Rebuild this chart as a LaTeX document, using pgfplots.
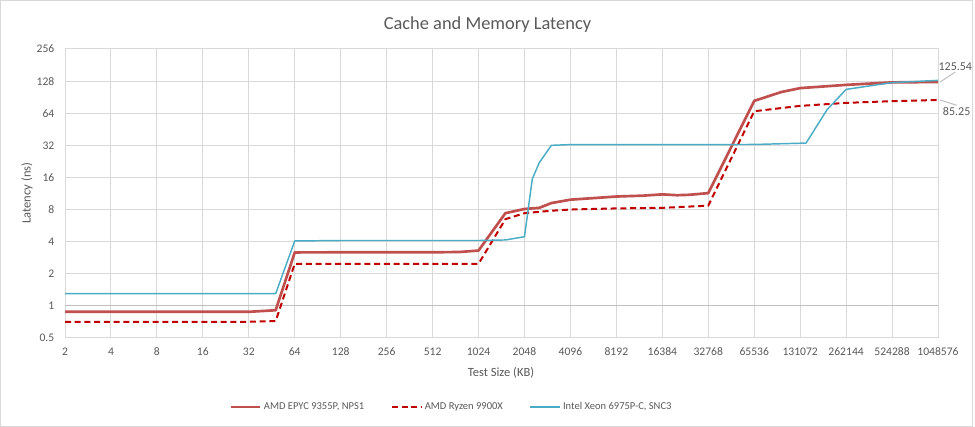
\documentclass[border=0pt]{standalone}
\usepackage{pgfplots}
\pgfplotsset{compat=1.18}
\usepackage{fontspec}
\setmainfont{Carlito}

\definecolor{epyc}{HTML}{C0504D}
\definecolor{ryzen}{HTML}{C00000}
\definecolor{xeon}{HTML}{4BACC6}
\definecolor{gridc}{HTML}{D9D9D9}
\definecolor{axisc}{HTML}{BFBFBF}
\definecolor{txt}{HTML}{595959}

\begin{document}
\begin{tikzpicture}
% 1px of the reference = 0.75pt
\useasboundingbox (0,0) rectangle (731.25pt,320.25pt);
\draw[gridc, line width=0.75pt] (0.4pt,0.4pt) rectangle (729.5pt,319.85pt);

\node[txt, font=\fontsize{13.8}{16}\selectfont] at (365.6pt,301.5pt) {Cache and Memory Latency};
\node[txt, rotate=90, font=\fontsize{9.4}{11}\selectfont] at (20.25pt,175.5pt) {Latency (ns)};
\node[txt, font=\fontsize{9.4}{11}\selectfont] at (375.75pt,40.7pt) {Test Size (KB)};

\begin{axis}[
    at={(48.75pt,66.75pt)}, anchor=south west,
    scale only axis, width=654.75pt, height=216.75pt,
    xmode=log, log basis x=2, ymode=log, log basis y=2,
    xmin=2, xmax=1048576, ymin=0.5, ymax=256,
    clip=false,
    xtick={2,4,8,16,32,64,128,256,512,1024,2048,4096,8192,16384,32768,65536,131072,262144,524288,1048576},
    xticklabels={2,4,8,16,32,64,128,256,512,1024,2048,4096,8192,16384,32768,65536,131072,262144,524288,1048576},
    ytick={0.5,1,2,4,8,16,32,64,128,256},
    yticklabels={0.5,1,2,4,8,16,32,64,128,256},
    extra y ticks={1}, extra y tick labels={},
    extra y tick style={grid style={axisc, line width=0.75pt}},
    major tick length=0pt,
    grid=major,
    grid style={gridc, line width=0.75pt},
    axis line style={draw=gridc, line width=0.75pt},
    tick label style={txt, font=\fontsize{8.7}{11}\selectfont},
    xticklabel style={yshift=-4pt},
    yticklabel style={xshift=-4.5pt},
    legend style={at={(0.443,-0.239)}, anchor=center, draw=none, fill=none,
        legend columns=3, text=txt, font=\fontsize{7.9}{10}\selectfont,
        /tikz/every even column/.append style={column sep=18pt}},
    legend image code/.code={\draw[#1] (0pt,0pt) -- (22pt,0pt);},
]
% AMD EPYC 9355P, NPS1
\addplot[epyc, line width=2pt, line join=round] coordinates {
(2,0.88)(4,0.88)(8,0.88)(16,0.88)(32,0.88)(48,0.91)(64,3.17)(128,3.18)(256,3.18)(512,3.18)(768,3.2)(1024,3.3)
(1536,7.4)(2048,8.1)(2560,8.3)(3072,9.2)(4096,9.9)(6144,10.3)(8192,10.6)(12288,10.8)(16384,11.1)(20480,10.9)(24576,11.0)(32768,11.4)
(65536,83.5)(98304,101)(131072,110)(262144,118)(524288,124.5)(1048576,125.54)
};
\addlegendentry{AMD EPYC 9355P, NPS1}
% AMD Ryzen 9900X
\addplot[ryzen, line width=1.5pt, dash pattern=on 4.5pt off 2.8pt] coordinates {
(2,0.71)(4,0.71)(8,0.71)(16,0.71)(32,0.71)(48,0.72)(64,2.48)(128,2.48)(256,2.48)(512,2.48)(1024,2.48)
(1536,6.5)(2048,7.4)(3072,7.8)(4096,8.0)(8192,8.2)(16384,8.3)(32768,8.7)
(65536,66.8)(131072,75)(262144,80)(524288,83)(1048576,85.25)
};
\addlegendentry{AMD Ryzen 9900X}
% Intel Xeon 6975P-C, SNC3
\addplot[xeon, line width=1.1pt, line join=round] coordinates {
(2,1.3)(4,1.3)(8,1.3)(16,1.3)(32,1.3)(48,1.3)(64,4.06)(128,4.1)(256,4.1)(512,4.1)(1024,4.1)
(1536,4.15)(2048,4.45)(2304,15.5)(2560,22)(3072,32)(4096,32.5)(8192,32.5)(16384,32.5)(32768,32.5)
(65536,32.6)(143360,33.6)(196608,69)(262144,107)(524288,124)(1048576,130)
};
\addlegendentry{Intel Xeon 6975P-C, SNC3}

\draw[axisc, line width=0.75pt] ([xshift=1.5pt]axis cs:1048576,125.54) -- ++(11.5pt,7.5pt)
    node[above, inner sep=1pt, txt, font=\fontsize{9}{11}\selectfont] {125.54};
\draw[axisc, line width=0.75pt] ([xshift=1.5pt]axis cs:1048576,85.25) -- ++(12.5pt,-4pt)
    node[below, inner sep=1.5pt, txt, font=\fontsize{9}{11}\selectfont] {85.25};
\end{axis}
\end{tikzpicture}
\end{document}
